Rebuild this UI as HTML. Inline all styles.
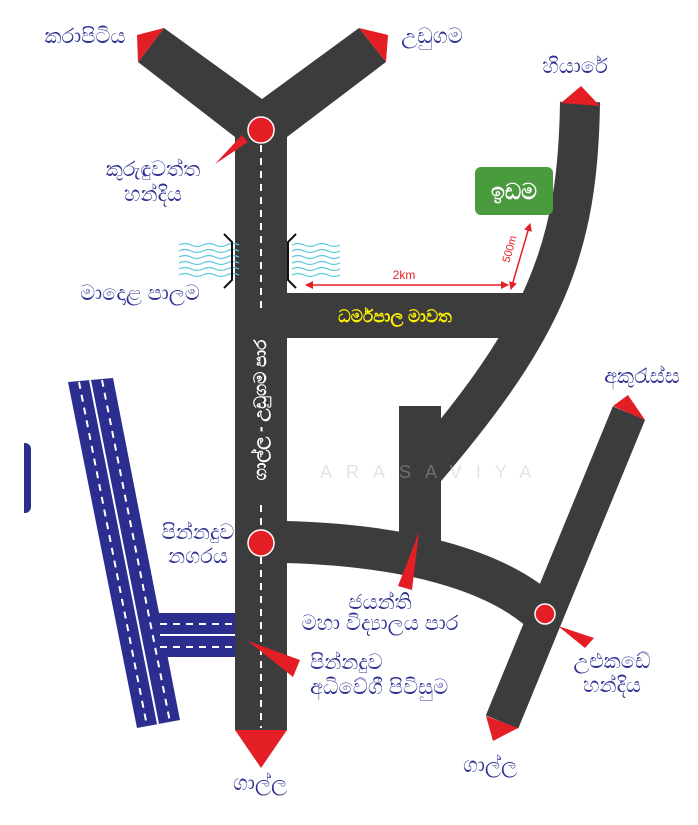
<!DOCTYPE html>
<html><head><meta charset="utf-8"><style>
html,body{margin:0;padding:0;background:#fff;}
svg{display:block;}
.l{font-family:"Liberation Sans","Noto Sans CJK SC",sans-serif;font-size:21px;fill:#2e3192;text-anchor:middle;}
</style></head><body>
<svg width="698" height="825" viewBox="0 0 698 825" xmlns="http://www.w3.org/2000/svg">
<defs>
<marker id="ar" markerWidth="8" markerHeight="8" refX="7" refY="4" orient="auto" markerUnits="userSpaceOnUse"><path d="M0,0 L8,4 L0,8 z" fill="#e31e24"/></marker>
<marker id="al" markerWidth="8" markerHeight="8" refX="1" refY="4" orient="auto" markerUnits="userSpaceOnUse"><path d="M8,0 L0,4 L8,8 z" fill="#e31e24"/></marker>
</defs>
<!-- blue expressway -->
<polygon points="68,382 113,378 180,720 137,728" fill="#2b2e8f"/>
<rect x="152" y="613" width="84" height="44" fill="#2b2e8f"/>
<line x1="90" y1="380" x2="158" y2="724" stroke="#fff" stroke-width="2"/>
<line x1="79" y1="382" x2="147" y2="726" stroke="#fff" stroke-width="2" stroke-dasharray="7,6"/>
<line x1="102" y1="380" x2="170" y2="722" stroke="#fff" stroke-width="2" stroke-dasharray="7,6"/>
<line x1="160" y1="635" x2="236" y2="635" stroke="#fff" stroke-width="2"/>
<line x1="160" y1="624" x2="236" y2="624" stroke="#fff" stroke-width="2" stroke-dasharray="7,6"/>
<line x1="160" y1="647" x2="236" y2="647" stroke="#fff" stroke-width="2" stroke-dasharray="7,6"/>
<path d="M24,443 h1 a6,6 0 0 1 6,6 v58 a6,6 0 0 1 -6,6 h-1 z" fill="#2b2e8f"/>
<!-- roads -->
<g fill="#3c3c3c">
<polygon points="235,137 138,62 164,28 262,99 359,28 386,62 287,137 287,730 235,730"/>
<rect x="285" y="293" width="240" height="45"/>
<rect x="399" y="406" width="42" height="140"/>
</g>
<path d="M580,102 C578,250 545,330 420,475" stroke="#3c3c3c" stroke-width="40" fill="none"/>
<path d="M285,542 C400,545 500,568 550,620" stroke="#3c3c3c" stroke-width="42" fill="none"/>
<line x1="629" y1="413" x2="502" y2="722" stroke="#3c3c3c" stroke-width="35"/>
<!-- dashes -->
<line x1="261" y1="145" x2="261" y2="310" stroke="#fff" stroke-width="2" stroke-dasharray="7,6"/>
<line x1="261" y1="505" x2="261" y2="728" stroke="#fff" stroke-width="2" stroke-dasharray="7,6"/>
<text transform="translate(266,410) rotate(-90)" style="font-family:'Liberation Sans',sans-serif;font-size:17px;font-weight:bold;fill:#fff;text-anchor:middle">ගාල්ල - උඩුගම පාර</text>
<text x="320" y="478" style="font-family:'Liberation Sans',sans-serif;font-size:18px;fill:#bbb;opacity:.4;letter-spacing:14px">ARASAVIYA</text>
<!-- red arrowheads -->
<g fill="#e31e24">
<polygon points="137,35 164,28 138,62"/>
<polygon points="359,28 388,35 386,62"/>
<polygon points="561,103 600,106 581,86"/>
<polygon points="235,730 287,730 261,768"/>
<polygon points="613,406 645,420 628,395"/>
<polygon points="486,716 518,728 493,741"/>
<polygon points="242,135 248,142 215,164"/>
<polygon points="419,532 398,586 412,590"/>
<polygon points="248,641 300,660 293,677"/>
<polygon points="558,626 594,638 585,648"/>
</g>
<g fill="#e31e24" stroke="#fff" stroke-width="1.5">
<circle cx="261" cy="130" r="13"/>
<circle cx="261" cy="543" r="13"/>
<circle cx="545" cy="614" r="10"/>
</g>
<!-- bridge -->
<g fill="none" stroke="#5bc8dd" stroke-width="1.2">
<path d="M179,245 q6,-3 12,0 t12,0 t12,0 t12,0 t12,0"/>
<path d="M179,251 q6,-3 12,0 t12,0 t12,0 t12,0 t12,0"/>
<path d="M179,257 q6,-3 12,0 t12,0 t12,0 t12,0 t12,0"/>
<path d="M179,263 q6,-3 12,0 t12,0 t12,0 t12,0 t12,0"/>
<path d="M179,269 q6,-3 12,0 t12,0 t12,0 t12,0 t12,0"/>
<path d="M179,275 q6,-3 12,0 t12,0 t12,0 t12,0 t12,0"/>
<path d="M292,245 q6,-3 12,0 t12,0 t12,0 t12,0"/>
<path d="M292,251 q6,-3 12,0 t12,0 t12,0 t12,0"/>
<path d="M292,257 q6,-3 12,0 t12,0 t12,0 t12,0"/>
<path d="M292,263 q6,-3 12,0 t12,0 t12,0 t12,0"/>
<path d="M292,269 q6,-3 12,0 t12,0 t12,0 t12,0"/>
<path d="M292,275 q6,-3 12,0 t12,0 t12,0 t12,0"/>
</g>
<path d="M224,234 l8,8 v38 l-8,8" stroke="#111" stroke-width="2" fill="none"/>
<path d="M296,234 l-8,8 v38 l8,8" stroke="#111" stroke-width="2" fill="none"/>
<!-- idama -->
<rect x="475" y="167" width="78" height="48" rx="6" fill="#4a9a3e"/>
<text x="514" y="199" style="font-family:'Liberation Sans',sans-serif;font-size:22px;font-weight:bold;fill:#fff;text-anchor:middle">ඉඩම</text>
<!-- distance arrows -->
<line x1="306" y1="285" x2="508" y2="285" stroke="#e31e24" stroke-width="1.5" marker-start="url(#al)" marker-end="url(#ar)"/>
<text x="404" y="279" style="font-family:'Liberation Sans',sans-serif;font-size:12px;fill:#e31e24;text-anchor:middle">2km</text>
<line x1="511" y1="289" x2="530" y2="224" stroke="#e31e24" stroke-width="1.5" marker-start="url(#al)" marker-end="url(#ar)"/>
<text transform="translate(513,250) rotate(-74)" style="font-family:'Liberation Sans',sans-serif;font-size:11px;fill:#e31e24;text-anchor:middle">500m</text>
<text x="395" y="322" style="font-family:'Liberation Sans',sans-serif;font-size:17px;font-weight:bold;fill:#fff200;text-anchor:middle">ධර්මපාල මාවත</text>
<!-- labels -->
<text class="l" x="85" y="43">කරාපිටිය</text>
<text class="l" x="432" y="43">උඩුගම</text>
<text class="l" x="575" y="73">හියාරේ</text>
<text class="l" x="153" y="176">කුරුඳුවත්ත</text>
<text class="l" x="153" y="201">හන්දිය</text>
<text class="l" x="140" y="300">මාදොළ පාලම</text>
<text class="l" x="642" y="383">අකුරැස්ස</text>
<text class="l" x="198" y="539">පින්නදුව</text>
<text class="l" x="198" y="563">නගරය</text>
<text class="l" x="380" y="609">ජයන්ති</text>
<text class="l" x="380" y="630">මහා විද්‍යාලය පාර</text>
<text class="l" x="310" y="669" style="text-anchor:start">පින්නදුව</text>
<text class="l" x="310" y="694" style="text-anchor:start">අධිවේගී පිවිසුම</text>
<text class="l" x="612" y="668">උළුකඩේ</text>
<text class="l" x="612" y="692">හන්දිය</text>
<text class="l" x="260" y="790">ගාල්ල</text>
<text class="l" x="490" y="772">ගාල්ල</text>
</svg>
</body></html>
